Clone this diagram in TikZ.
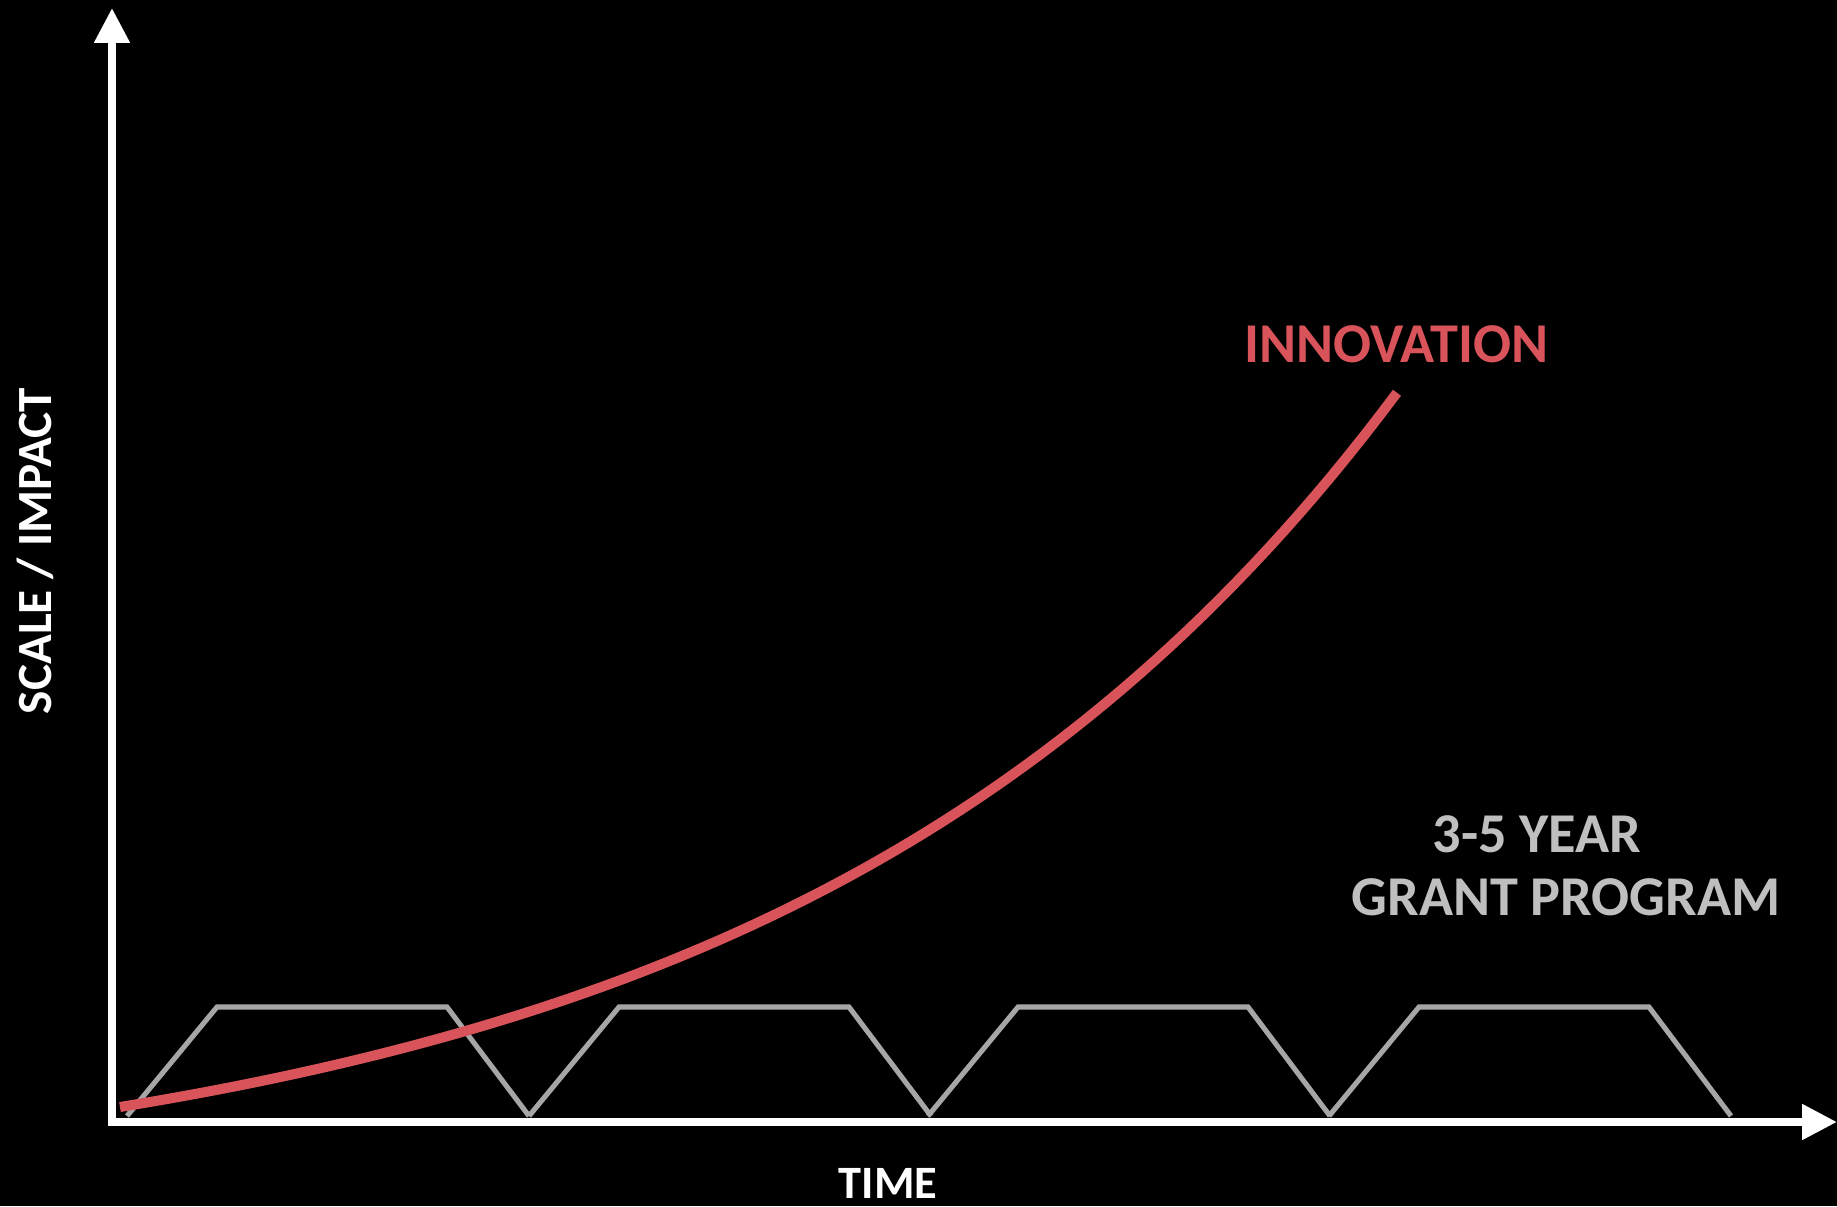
\documentclass[tikz,border=0pt]{standalone}
\usepackage{fontspec}
\setmainfont{Carlito}
\usetikzlibrary{arrows.meta}
\definecolor{innovred}{RGB}{217,83,91}
\definecolor{grantgray}{RGB}{166,166,166}
\definecolor{granttext}{RGB}{191,191,191}

\begin{document}
\begin{tikzpicture}[
	axis/.style={white,line width=2.3pt,{Triangle[length=0.35cm,width=0.34cm]}-{Triangle[length=0.35cm,width=0.34cm]}},
	grant/.style={grantgray,line width=1.45pt},
	innov/.style={innovred,line width=2.85pt},
	lbl/.style={font=\bfseries\fontsize{16}{19}\selectfont,inner sep=0pt}
	]
	% background
	\fill[black] (0,0) rectangle (18.37,12.06);
	\useasboundingbox (0,0) rectangle (18.37,12.06);

	% axis
	\coordinate (o) at (1.12,0.84);
	\coordinate (ytip) at (1.12,11.98);
	\coordinate (xtip) at (18.37,0.84);
	\draw[axis] (ytip)--(o)--(xtip);
	\node[lbl,white,font=\bfseries\fontsize{13.2}{15}\selectfont] (time) at (8.88,0.23) {TIME};
	\node[lbl,white,font=\bfseries\fontsize{14}{17}\selectfont,rotate=90] (scale) at (0.35,6.55) {SCALE / IMPACT};

	% grant programs
	\foreach \s in {1.27,5.29,9.28,13.29}
		\draw[grant] (\s,0.9) -- ++(0.9,1.09) -- ++(2.3,0) -- ++(0.82,-1.09);
	\node[lbl,granttext] (year) at (15.37,3.715) {3-5 YEAR};
	\node[lbl,granttext] (program) at (15.66,3.09) {GRANT PROGRAM};

	% innovation curve
	\draw[innov] plot[domain=0:12.77,samples=80] ({1.2+\x},{0.99+0.989*(exp(0.165*\x)-1)});
	\node[lbl,innovred] (innovation) at (13.96,8.62) {INNOVATION};

\end{tikzpicture}
\end{document}
